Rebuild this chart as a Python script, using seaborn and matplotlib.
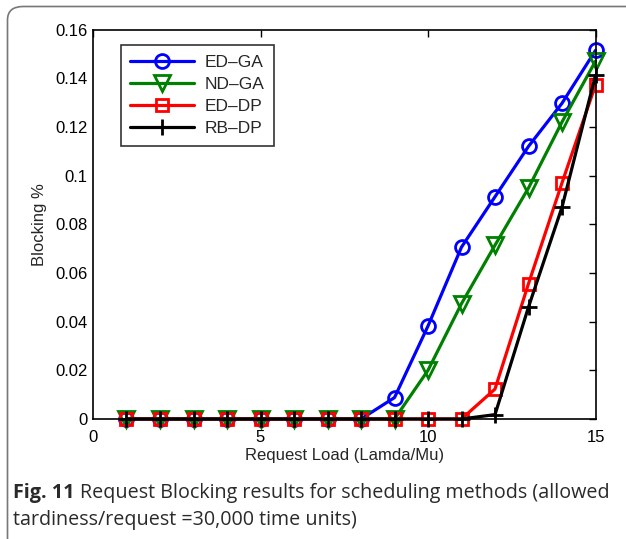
import matplotlib
matplotlib.use("Agg")
import matplotlib.pyplot as plt
import seaborn as sns
from matplotlib.patches import FancyBboxPatch

# data
load = [1, 2, 3, 4, 5, 6, 7, 8, 9, 10, 11, 12, 13, 14, 15]
ed_ga = [0, 0, 0, 0, 0, 0, 0, 0, 0.0088, 0.0382, 0.0706, 0.0913, 0.1120, 0.1297, 0.1514]
nd_ga = [0, 0, 0, 0, 0, 0, 0, 0, 0, 0.0200, 0.0474, 0.0714, 0.0949, 0.1220, 0.1470]
ed_dp = [0, 0, 0, 0, 0, 0, 0, 0, 0, 0, 0, 0.0123, 0.0556, 0.0970, 0.1372]
rb_dp = [0, 0, 0, 0, 0, 0, 0, 0, 0, 0, 0, 0.0018, 0.0460, 0.0870, 0.1412]

series_names = ["ED\u2013GA", "ND\u2013GA", "ED\u2013DP", "RB\u2013DP"]
series_values = [ed_ga, nd_ga, ed_dp, rb_dp]
colors = ["#0000ff", "#008000", "#ff0000", "#000000"]
markers = ["o", "v", "s", "+"]
msizes = [10, 11, 8, 12]

sns.set_theme(style="white")
plt.rcParams['font.family'] = ['Liberation Sans', 'DejaVu Sans']

fig = plt.figure(figsize=(6.26, 5.39), dpi=100)
W, H = 626, 539

# rounded frame around figure + caption (cut off at right/bottom)
frame = FancyBboxPatch((7.5 / W, -20 / H), (W + 20) / W, (H - 6.5 + 20) / H,
                       boxstyle="round,pad=0,rounding_size=0.025",
                       transform=fig.transFigure, facecolor="none",
                       edgecolor="#777777", linewidth=1.2, zorder=0)
fig.patches.append(frame)

ax = fig.add_axes([93 / W, (H - 419) / H, (595.5 - 93) / W, (419 - 29.5) / H])

for name, vals, c, m, ms in zip(series_names, series_values, colors, markers, msizes):
    sns.lineplot(x=load, y=vals, ax=ax, color=c, marker=m, markersize=ms,
                 markerfacecolor="none", markeredgecolor=c, markeredgewidth=2,
                 linewidth=2.3, label=name, clip_on=False)

ax.set_xlim(0, 15)
ax.set_ylim(0, 0.16)
ax.set_xticks([0, 5, 10, 15])
ax.set_xticklabels(["0", "5", "10", "15"])
yt = [0, 0.02, 0.04, 0.06, 0.08, 0.1, 0.12, 0.14, 0.16]
ax.set_yticks(yt)
ax.set_yticklabels(["0", "0.02", "0.04", "0.06", "0.08", "0.1", "0.12", "0.14", "0.16"])
ax.tick_params(direction="in", length=5, width=1, top=True, right=True,
               labelsize=12, colors="black", pad=4)
ax.tick_params(axis="x", pad=8)
for s in ax.spines.values():
    s.set_color("black")
    s.set_linewidth(1.2)
ax.set_xlabel("Request Load (Lamda/Mu)", fontsize=12, labelpad=2)
ax.set_ylabel("Blocking %", fontsize=12, labelpad=6)

leg = ax.legend(loc="upper left", bbox_to_anchor=(0.055, 0.96), fontsize=12.5,
                frameon=True, fancybox=False, edgecolor="black",
                handlelength=3.7, borderpad=0.55, labelspacing=0.4,
                handletextpad=0.6, borderaxespad=0)
leg.get_frame().set_linewidth(1.2)

# caption
cap_font = ['Open Sans', 'DejaVu Sans']
cap_color = "#2a2a2a"
t1 = fig.text(13 / W, 1 - 498 / H, "Fig. 11", fontsize=14.2, fontweight="bold",
              family=cap_font, va="baseline", ha="left", color=cap_color)
fig.canvas.draw()
bb = t1.get_window_extent()
fig.text((bb.x1 + 5) / W, 1 - 498 / H,
         "Request Blocking results for scheduling methods (allowed",
         fontsize=14.2, family=cap_font, va="baseline", ha="left", color=cap_color)
fig.text(13 / W, 1 - 525 / H, "tardiness/request =30,000 time units)",
         fontsize=14.2, family=cap_font, va="baseline", ha="left", color=cap_color)

fig.savefig("out.png", dpi=100)
